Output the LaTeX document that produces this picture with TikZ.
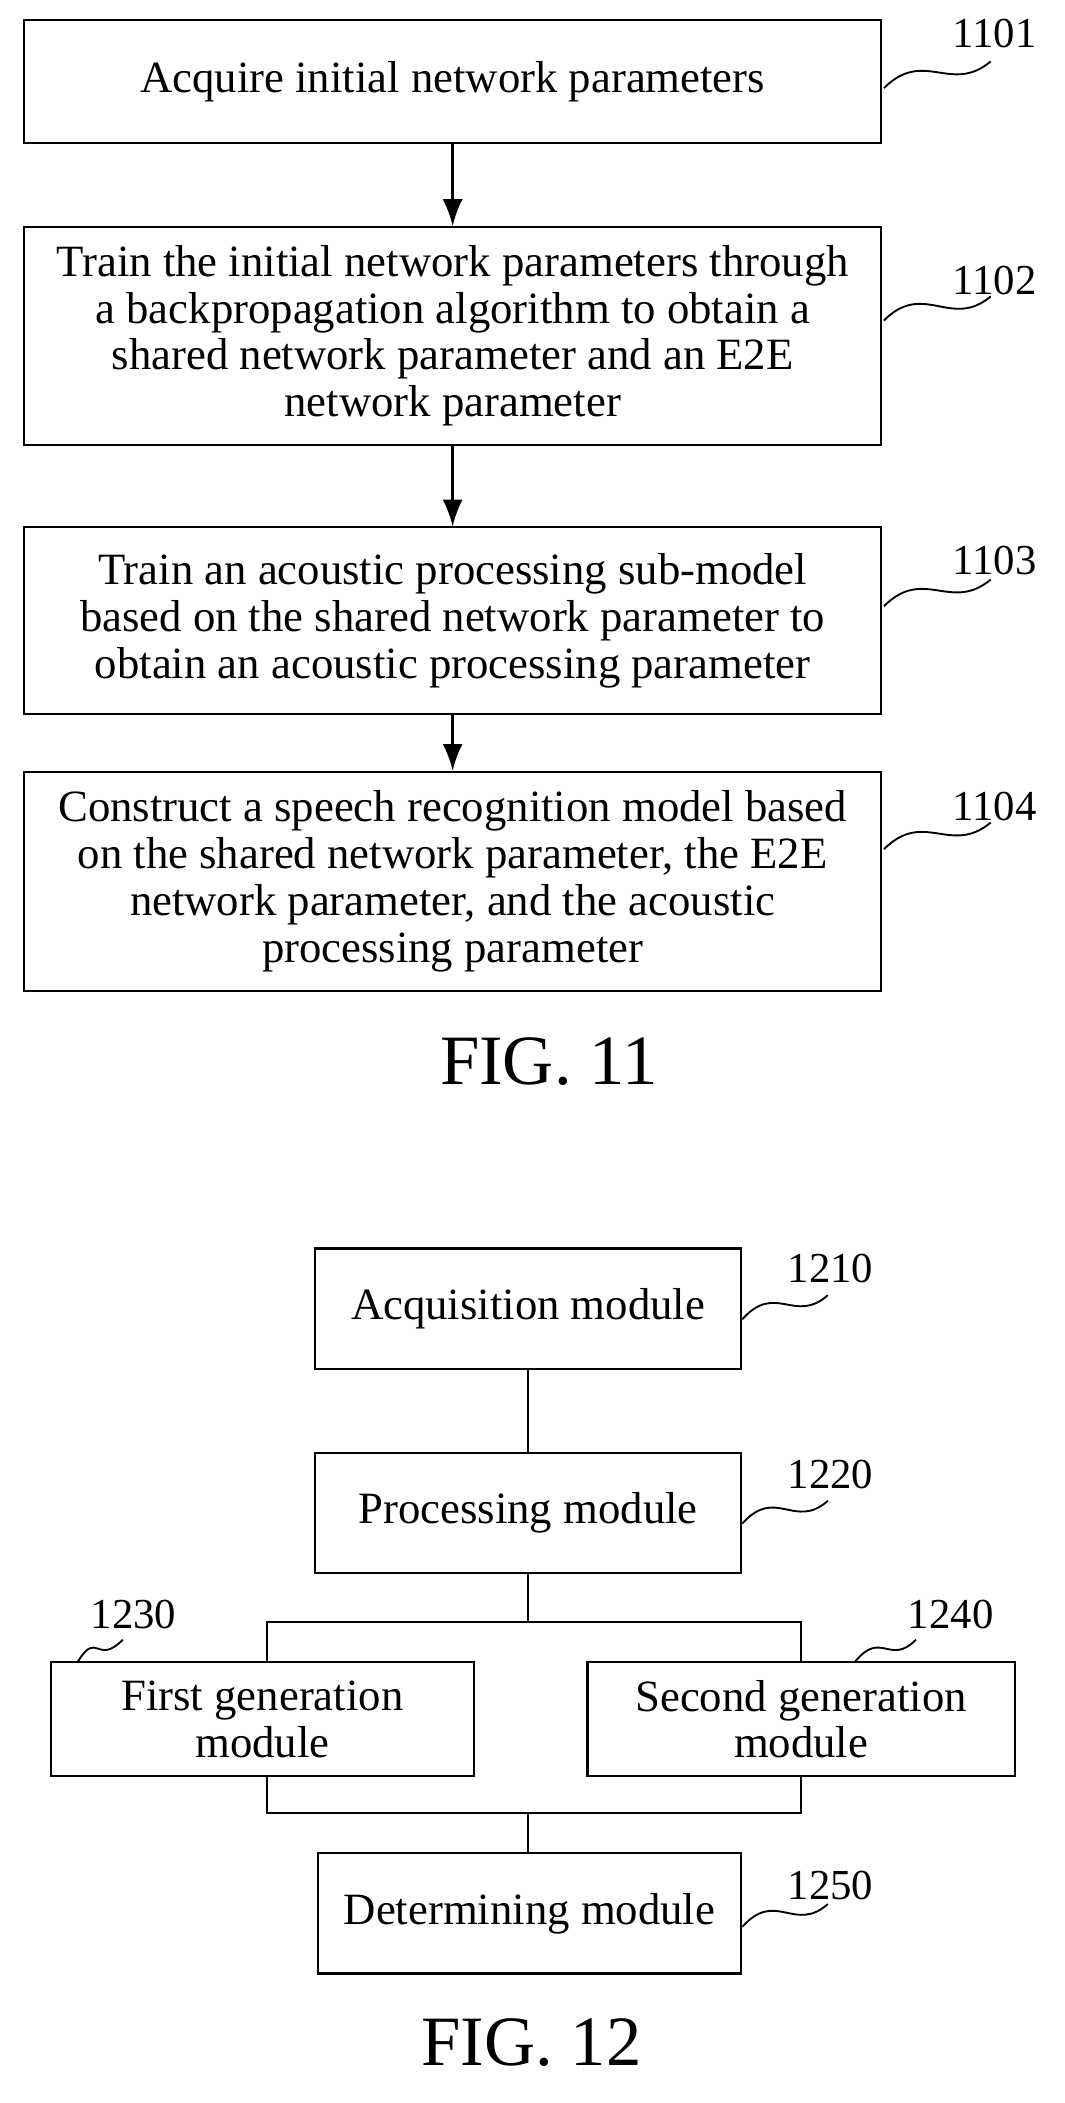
\documentclass[tikz,border=0pt]{standalone}
\usepackage{fontspec}
\setmainfont{Liberation Serif}
\usetikzlibrary{arrows.meta}
\begin{document}
\begin{tikzpicture}[x=1pt,y=-1pt,
 box/.style={draw,line width=1.6pt,align=center,inner sep=0pt,font=\fontsize{33.5}{35}\selectfont},
 lab/.style={font=\fontsize{32}{36}\selectfont},
 arr/.style={line width=1.8pt,-{Latex[length=20pt,width=15pt]}},
 ln/.style={line width=1.6pt},
 sq/.style={line width=1.4pt},
 fig/.style={font=\fontsize{53}{56}\selectfont}]
\useasboundingbox (0,0) rectangle (797,1575);
% FIG 11
\node[box,minimum width=642pt,minimum height=92pt] (b1) at (339,61) {Acquire initial network parameters};
\node[box,minimum width=642pt,minimum height=163pt] (b2) at (339,251.5) {Train the initial network parameters through\\a backpropagation algorithm to obtain a\\shared network parameter and an E2E\\network parameter};
\node[box,minimum width=642pt,minimum height=140pt] (b3) at (339,465) {Train an acoustic processing sub-model\\based on the shared network parameter to\\obtain an acoustic processing parameter};
\node[box,minimum width=642pt,minimum height=164pt] (b4) at (339,660) {Construct a speech recognition model based\\on the shared network parameter, the E2E\\network parameter, and the acoustic\\processing parameter};
\draw[arr] (b1) -- (b2);
\draw[arr] (b2) -- (b3);
\draw[arr] (b3) -- (b4);
\node[lab] (l1) at (745,25) {1101};
\node[lab] (l2) at (745,210) {1102};
\node[lab] (l3) at (745,420) {1103};
\node[lab] (l4) at (745,604) {1104};
\coordinate (s1a) at (662,66); \coordinate (s1b) at (742,46);
\coordinate (s2a) at (662,240); \coordinate (s2b) at (742,222);
\coordinate (s3a) at (662,454); \coordinate (s3b) at (742,434);
\coordinate (s4a) at (662,636); \coordinate (s4b) at (742,616);
\foreach \s in {1,2,3,4}{\draw[sq] (s\s a) .. controls +(30,-30) and +(-30,25) .. (s\s b);}
\node[fig] (f11) at (411,795) {FIG. 11};
% FIG 12
\node[box,minimum width=319pt,minimum height=90pt] (m1) at (395.5,980) {Acquisition module};
\node[box,minimum width=319pt,minimum height=90pt] (m2) at (395.5,1133) {Processing module};
\node[box,minimum width=317pt,minimum height=85pt] (m3) at (196.5,1287.5) {First generation\\module};
\node[box,minimum width=320pt,minimum height=85pt] (m4) at (600,1287.5) {Second generation\\module};
\node[box,minimum width=317pt,minimum height=90pt] (m5) at (396.5,1433) {Determining module};
\draw[ln] (m1) -- (m2);
\coordinate (t1) at (200,1215); \coordinate (t2) at (600,1215);
\draw[ln] (m2.south) -- (395.5,1215);
\draw[ln] (m3.north -| t1) -- (t1) -- (t2) -- (m4.north -| t2);
\coordinate (u1) at (200,1358); \coordinate (u2) at (600,1358);
\draw[ln] (m3.south -| u1) -- (u1) -- (u2) -- (m4.south -| u2);
\draw[ln] (395.5,1358) -- (m5.north -| 395.5,0);
\node[lab] (n1) at (622,950) {1210};
\node[lab] (n2) at (622,1104) {1220};
\node[lab] (n3) at (100,1209) {1230};
\node[lab] (n4) at (712,1209) {1240};
\node[lab] (n5) at (622,1412) {1250};
\coordinate (r1a) at (556,988); \coordinate (r1b) at (620,970);
\coordinate (r2a) at (556,1141); \coordinate (r2b) at (620,1124);
\coordinate (r5a) at (556,1443); \coordinate (r5b) at (620,1426);
\foreach \s in {1,2,5}{\draw[sq] (r\s a) .. controls +(25,-28) and +(-25,22) .. (r\s b);}
\draw[sq] (58,1245) .. controls +(15,-25) and +(-20,20) .. (92,1228);
\draw[sq] (640,1245) .. controls +(20,-25) and +(-20,20) .. (686,1228);
\node[fig] (f12) at (398,1530) {FIG. 12};
\end{tikzpicture}
\end{document}
